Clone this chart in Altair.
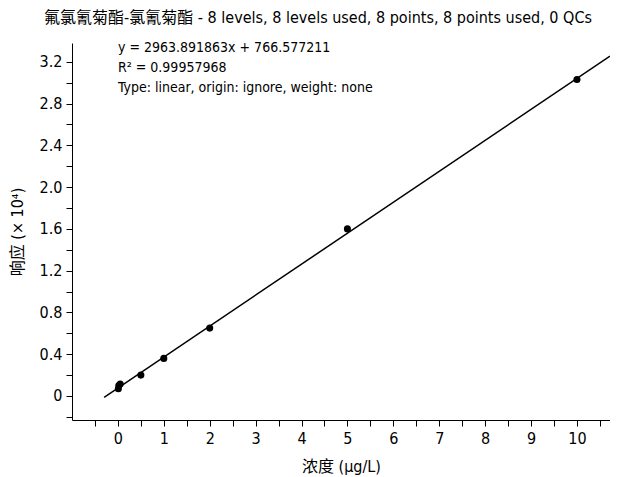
import altair as alt
import pandas as pd

# Calibration points (concentration in µg/L, response ×10^4)
conc = [0.01, 0.02, 0.05, 0.5, 1, 2, 5, 10]
resp = [0.07, 0.10, 0.115, 0.20, 0.36, 0.65, 1.60, 3.03]

# Fit line from the equation shown (response in ×10^4)
slope = 2963.891863 / 1e4
intercept = 766.577211 / 1e4
line_x = [-0.3, 10.72]

x_ticks = [round(-0.5 + 0.5 * i, 1) for i in range(23)]
y_ticks = [round(-0.2 + 0.2 * i, 1) for i in range(18)]

title_text = "氟氯氰菊酯-氯氰菊酯 - 8 levels, 8 levels used, 8 points, 8 points used, 0 QCs"
ann_lines = ["y = 2963.891863x + 766.577211", "R² = 0.99957968",
             "Type: linear, origin: ignore, weight: none"]

FONT = "DejaVu Sans Condensed, Noto Sans CJK SC"

pts = pd.DataFrame({"x": conc, "y": resp})
ln = pd.DataFrame({"x": line_x})

xscale = alt.Scale(domain=[-1, 10.72], nice=False, zero=False)
yscale = alt.Scale(domain=[-0.23, 3.38], nice=False, zero=False)

xaxis = alt.Axis(values=x_ticks,
                 labelExpr="abs(datum.value - round(datum.value)) < 0.01 ? format(datum.value, 'd') : ''",
                 title="浓度 (μg/L)", grid=False, tickSize=6, labelPadding=4,
                 titlePadding=12, labelOverlap=False)
yaxis = alt.Axis(values=y_ticks,
                 labelExpr="abs(datum.value/0.4 - round(datum.value/0.4)) < 0.01 ? (datum.value == 0 ? '0' : format(datum.value, '.1f')) : ''",
                 title="响应 (× 10⁴)", grid=False, tickSize=6, labelPadding=4,
                 titlePadding=14, labelOverlap=False)

line = alt.Chart(ln).transform_calculate(
    y=f"{slope} * datum.x + {intercept}"
).mark_line(color="black", strokeWidth=1.5, clip=True).encode(
    x=alt.X("x:Q", scale=xscale, axis=xaxis),
    y=alt.Y("y:Q", scale=yscale, axis=yaxis),
)

points = alt.Chart(pts).mark_circle(color="black", size=50, opacity=1).encode(
    x=alt.X("x:Q", scale=xscale, axis=xaxis),
    y=alt.Y("y:Q", scale=yscale, axis=yaxis),
)

texts = []
for i, t in enumerate(ann_lines):
    texts.append(
        alt.Chart(pd.DataFrame({"t": [t]})).mark_text(
            align="left", baseline="middle", fontSize=14, font=FONT, color="black"
        ).encode(x=alt.value(46), y=alt.value(5 + 20 * i), text="t:N")
    )

chart = alt.layer(line, points, *texts).properties(
    width=538, height=377,
    autosize=alt.AutoSizeParams(type="none"),
    padding={"left": 64, "top": 35, "right": 0, "bottom": 57},
    title=alt.TitleParams(title_text, fontSize=16, font=FONT, anchor="middle",
                          dx=-23, offset=15, color="black", fontWeight="normal"),
).configure_view(stroke=None).configure_axis(
    domainColor="black", tickColor="black", labelColor="black", titleColor="black",
    labelFont=FONT, titleFont=FONT, labelFontSize=16, titleFontSize=16,
    titleFontWeight="normal", domainWidth=1,
)

chart.save("out.html", embed_options={"renderer": "svg", "actions": False})
